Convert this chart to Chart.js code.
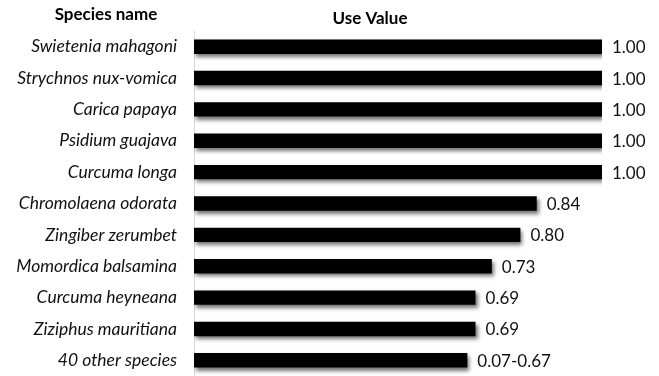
<!DOCTYPE html>
<html>
<head>
<meta charset="utf-8">
<script src="https://cdn.jsdelivr.net/npm/chart.js@4"></script>
<style>
  html,body{margin:0;padding:0;background:#fff;overflow:hidden;}
  canvas{display:block;}
</style>
</head>
<body>
<canvas id="c" width="659" height="376"></canvas>
<script>
// species and their use values (last row is a range, bar drawn at its top)
const species = ['Swietenia mahagoni','Strychnos nux-vomica','Carica papaya','Psidium guajava','Curcuma longa',
  'Chromolaena odorata','Zingiber zerumbet','Momordica balsamina','Curcuma heyneana','Ziziphus mauritiana','40 other species'];
const useValue = [1.00,1.00,1.00,1.00,1.00,0.84,0.80,0.73,0.69,0.69,0.67];
const valueLabels = ['1.00','1.00','1.00','1.00','1.00','0.84','0.80','0.73','0.69','0.69','0.07-0.67'];

const FONT = 'Lato, "Open Sans", sans-serif';

// soft drop shadow under bars
const shadow = {
  id:'shadow',
  beforeDatasetDraw(ch){const c=ch.ctx;c.save();c.shadowColor='rgba(0,0,0,0.55)';c.shadowBlur=4;c.shadowOffsetX=2;c.shadowOffsetY=3;},
  afterDatasetDraw(ch){ch.ctx.restore();}
};

// headers + value labels at the bar ends
const labels = {
  id:'labels',
  afterDraw(ch){
    const c=ch.ctx;c.save();
    c.fillStyle='#000';c.textBaseline='middle';
    c.font='bold 17px '+FONT;c.textAlign='center';
    c.fillText('Species name',106,15);
    c.fillText('Use Value',370,19);
    c.font='17px '+FONT;c.textAlign='left';c.fillStyle='#111';
    ch.getDatasetMeta(0).data.forEach((b,i)=>c.fillText(valueLabels[i],b.x+10,b.y+1));
    c.restore();
  }
};

new Chart(document.getElementById('c'),{
  type:'bar',
  data:{labels:species,datasets:[{data:useValue,backgroundColor:'#000',borderWidth:0,barPercentage:0.46,categoryPercentage:1}]},
  options:{
    indexAxis:'y',responsive:false,animation:false,
    layout:{padding:{top:31,right:57,bottom:0,left:0}},
    plugins:{legend:{display:false},tooltip:{enabled:false}},
    scales:{
      x:{display:false,min:0,max:1},
      y:{
        afterFit(s){s.width=194;s.paddingTop=0;s.paddingBottom=0;},
        grid:{display:false,drawTicks:false},
        border:{display:true,color:'#d9d9d9',width:1},
        ticks:{padding:17,color:'#111',font:{family:FONT,size:17.5,style:'italic'}}
      }
    }
  },
  plugins:[shadow,labels]
});
</script>
</body>
</html>
